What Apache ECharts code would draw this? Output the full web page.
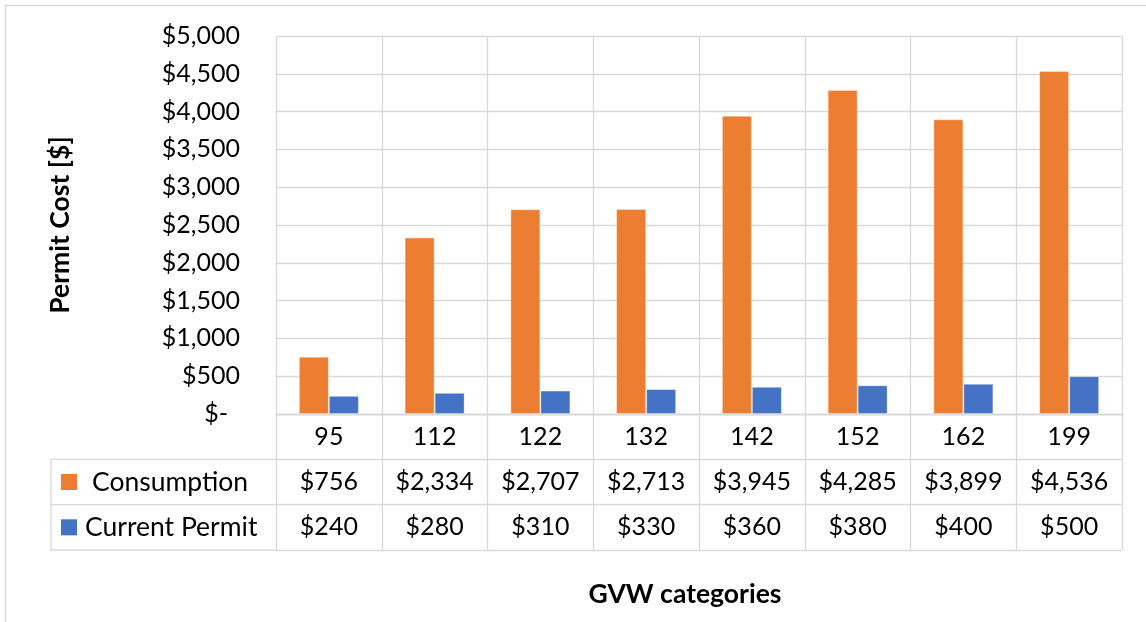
<!DOCTYPE html>
<html>
<head>
<meta charset="utf-8">
<title>Permit Cost by GVW Category</title>
<script src="https://cdn.jsdelivr.net/npm/echarts@6/dist/echarts.min.js"></script>
<style>
  html, body { margin: 0; padding: 0; background: #fff; }
  #chart { width: 1146px; height: 622px; }
</style>
</head>
<body>
<div id="chart"></div>
<script>
// GVW categories and the two permit cost series
const categories = ['95', '112', '122', '132', '142', '152', '162', '199'];
const consumption = [756, 2334, 2707, 2713, 3945, 4285, 3899, 4536];
const currentPermit = [240, 280, 310, 330, 360, 380, 400, 500];
const seriesNames = ['Consumption', 'Current Permit'];
const tableRows = ['', 'Consumption', 'Current Permit'];

// layout of the plot and the data table beneath it
const PLOT_L = 276, PLOT_R = 1122, PLOT_T = 36, PLOT_B = 414;
const TABLE_B = 550, KEY_L = 51;
const ROW_H = (TABLE_B - PLOT_B) / 3;

const FONT = 'Lato, "Open Sans", sans-serif';
const GRID_COLOR = '#D9D9D9';
const ORANGE = '#ED7D31', BLUE = '#4472C4';

const money = v => '$' + v.toLocaleString('en-US');

const chart = echarts.init(document.getElementById('chart'), null, { renderer: 'canvas' });

const gridLine = { show: true, lineStyle: { color: GRID_COLOR, width: 1.3 } };

const option = {
  animation: false,
  backgroundColor: '#fff',
  textStyle: { fontFamily: FONT },
  grid: [
    { left: PLOT_L, top: PLOT_T, width: PLOT_R - PLOT_L, height: PLOT_B - PLOT_T },
    { left: PLOT_L, top: PLOT_B, width: PLOT_R - PLOT_L, height: TABLE_B - PLOT_B }
  ],
  xAxis: [
    {
      type: 'category', gridIndex: 0, data: categories,
      axisLine: { show: true, lineStyle: { color: GRID_COLOR, width: 1.3 } },
      axisTick: { show: false },
      splitLine: gridLine,
      axisLabel: {
        interval: 0, margin: 0,
        formatter: (value, idx) =>
          '{c|' + value + '}\n{v|' + money(consumption[idx]) + '}\n{v|' + money(currentPermit[idx]) + '}',
        rich: {
          c: { fontFamily: FONT, fontSize: 25, color: '#000', lineHeight: ROW_H, height: ROW_H },
          v: { fontFamily: FONT, fontSize: 25, color: '#000', lineHeight: ROW_H, height: ROW_H }
        }
      }
    },
    {
      type: 'category', gridIndex: 1, data: categories,
      axisLine: { show: false }, axisTick: { show: false }, axisLabel: { show: false },
      splitLine: gridLine
    }
  ],
  yAxis: [
    {
      type: 'value', gridIndex: 0, min: 0, max: 5000, interval: 500,
      axisLine: { show: false }, axisTick: { show: false },
      splitLine: gridLine,
      name: 'Permit Cost [$]', nameLocation: 'middle', nameRotate: 90, nameGap: 202,
      nameTextStyle: { fontFamily: FONT, fontSize: 26.5, fontWeight: 'bold', color: '#000' },
      axisLabel: {
        margin: 36, fontFamily: FONT, fontSize: 25, color: '#000',
        formatter: v => v === 0 ? '{z|$-}' : money(v),
        rich: { z: { fontFamily: FONT, fontSize: 25, color: '#000', padding: [0, 12, 0, 0] } }
      }
    },
    {
      type: 'category', gridIndex: 1, data: tableRows, inverse: true,
      axisLine: { show: false }, axisTick: { show: false },
      splitLine: gridLine,
      axisLabel: {
        interval: 0, align: 'left', margin: PLOT_L - 61,
        formatter: (v, idx) => idx === 1 ? '{ko|}{t1|' + v + '}' : idx === 2 ? '{kb|}{t2|' + v + '}' : '',
        rich: {
          ko: { width: 16, height: 16, backgroundColor: ORANGE },
          kb: { width: 16, height: 16, backgroundColor: BLUE },
          t1: { fontFamily: FONT, fontSize: 26.5, color: '#000', padding: [0, 0, 0, 15] },
          t2: { fontFamily: FONT, fontSize: 26.5, color: '#000', padding: [0, 0, 0, 8] }
        }
      }
    }
  ],
  series: [
    {
      name: seriesNames[0], type: 'bar', xAxisIndex: 0, yAxisIndex: 0,
      data: consumption, barWidth: 30, barGap: '0%',
      itemStyle: { color: ORANGE, borderColor: 'rgba(255,255,255,0.35)', borderWidth: 1 }
    },
    {
      name: seriesNames[1], type: 'bar', xAxisIndex: 0, yAxisIndex: 0,
      data: currentPermit, barWidth: 30, barGap: '0%',
      itemStyle: { color: BLUE, borderColor: 'rgba(255,255,255,0.35)', borderWidth: 1 }
    }
  ],
  graphic: [
    // outer chart frame
    {
      type: 'rect', silent: true,
      shape: { x: 5.5, y: 5.5, width: 1200, height: 700 },
      style: { fill: 'none', stroke: GRID_COLOR, lineWidth: 1.3 }
    },
    // legend-key column of the data table
    {
      type: 'polyline', silent: true,
      shape: { points: [[PLOT_L, PLOT_B + ROW_H], [KEY_L, PLOT_B + ROW_H], [KEY_L, TABLE_B], [PLOT_L, TABLE_B]] },
      style: { fill: 'none', stroke: GRID_COLOR, lineWidth: 1.3 }
    },
    {
      type: 'line', silent: true,
      shape: { x1: KEY_L, y1: PLOT_B + 2 * ROW_H, x2: PLOT_L, y2: PLOT_B + 2 * ROW_H },
      style: { stroke: GRID_COLOR, lineWidth: 1.3 }
    },
    // horizontal axis title
    {
      type: 'text', silent: true, x: 685, y: 594,
      style: {
        text: 'GVW categories', fontFamily: FONT, fontSize: 26.5, fontWeight: 'bold',
        fill: '#000', align: 'center', verticalAlign: 'middle'
      }
    }
  ]
};

chart.setOption(option);
</script>
</body>
</html>
